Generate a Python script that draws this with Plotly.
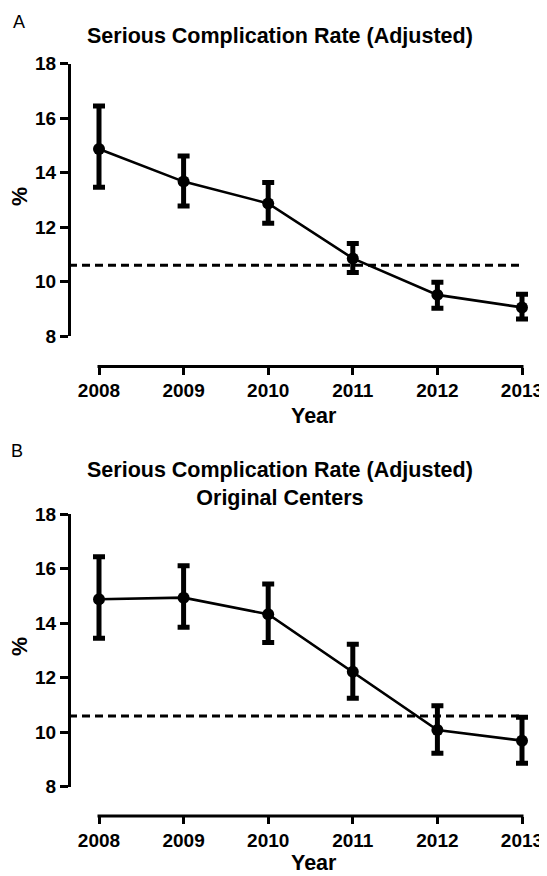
import plotly.graph_objects as go

# ---------------- data ----------------
years = [2008, 2009, 2010, 2011, 2012, 2013]
tick_labels = ["2008", "2009", "2010", "2011", "2012", "2013"]
y_ticks = [8, 10, 12, 14, 16, 18]

rate_a = [14.87, 13.67, 12.87, 10.85, 9.51, 9.05]
upper_a = [16.45, 14.61, 13.64, 11.40, 9.97, 9.53]
lower_a = [13.46, 12.77, 12.14, 10.33, 9.02, 8.62]

rate_b = [14.88, 14.94, 14.33, 12.22, 10.08, 9.69]
upper_b = [16.44, 16.11, 15.44, 13.23, 10.97, 10.55]
lower_b = [13.45, 13.85, 13.29, 11.25, 9.23, 8.86]

reference_rate = [10.6]

title_a = "Serious Complication Rate (Adjusted)"
title_b = ["Serious Complication Rate (Adjusted)", "Original Centers"]
panel_labels = ["A", "B"]
x_title = "Year"
y_title = "%"

# ---------------- layout helpers ----------------
# page body has an 8px margin -> figure is 8px smaller and offset by 8px
OFF = 8
W, H = 547 - OFF, 876 - OFF
FONT = "Liberation Sans, Arial, Helvetica, sans-serif"


def px_x(p):
    return (p - OFF) / W


def px_y(p):
    return 1 - (p - OFF) / H


fig = go.Figure()


def add_series(rate, upper, lower, xa, ya):
    fig.add_trace(go.Scatter(
        x=years, y=rate, xaxis=xa, yaxis=ya,
        mode="lines+markers",
        line=dict(color="black", width=2.6),
        marker=dict(color="black", size=12),
        error_y=dict(
            type="data", symmetric=False,
            array=[u - r for u, r in zip(upper, rate)],
            arrayminus=[r - l for r, l in zip(rate, lower)],
            color="black", thickness=5, width=6,
        ),
        cliponaxis=False,
        showlegend=False,
    ))


add_series(rate_a, upper_a, lower_a, "x", "y")
add_series(rate_b, upper_b, lower_b, "x2", "y2")

# pixel geometry
x_first_px, x_last_px = 99, 522          # pixel of first / last year
yaxis_x_px = 69
pad = 0.15                                # extra range so end error bars are not clipped
per_year_px = (x_last_px - x_first_px) / (years[-1] - years[0])
x_range = [years[0] - pad, years[-1] + pad]
x_dom = [px_x(x_first_px - pad * per_year_px), px_x(x_last_px + pad * per_year_px)]

tick_font = dict(family=FONT, size=19, color="black", weight="bold")
xaxis_common = dict(
    range=x_range, domain=x_dom,
    tickvals=years, ticktext=tick_labels,
    showline=False,
    ticks="outside", ticklen=7, tickwidth=3, tickcolor="black",
    showgrid=False, zeroline=False,
    tickfont=tick_font,
    anchor="free", automargin=False,
)
yaxis_common = dict(
    range=[8, 18],
    tickvals=y_ticks,
    showline=True, linecolor="black", linewidth=3,
    ticks="outside", ticklen=8, tickwidth=3, tickcolor="black",
    showgrid=False, zeroline=False,
    tickfont=tick_font,
    anchor="free", automargin=False,
)

xaxis_pos = {"x": px_y(366.5), "x2": px_y(816)}

fig.update_layout(
    width=W, height=H,
    margin=dict(l=0, r=0, t=0, b=0),
    paper_bgcolor="white", plot_bgcolor="white",
    font=dict(family=FONT, color="black"),
    xaxis=dict(xaxis_common, position=xaxis_pos["x"]),
    yaxis=dict(yaxis_common, domain=[px_y(336), px_y(63.7)],
               position=px_x(yaxis_x_px)),
    xaxis2=dict(xaxis_common, position=xaxis_pos["x2"]),
    yaxis2=dict(yaxis_common, domain=[px_y(786.7), px_y(514.3)],
                position=px_x(yaxis_x_px)),
)

# x-axis base lines spanning first to last year only (detached axis style)
for xr, pos in xaxis_pos.items():
    fig.add_shape(type="line", xref=xr, yref="paper",
                  x0=years[0] - 1.5 / per_year_px, x1=years[-1] + 1.5 / per_year_px,
                  y0=pos, y1=pos,
                  line=dict(color="black", width=3))

# reference (dashed) lines
for yref in ["y", "y2"]:
    fig.add_shape(type="line", xref="paper", yref=yref,
                  x0=px_x(yaxis_x_px), x1=px_x(x_last_px),
                  y0=reference_rate[0], y1=reference_rate[0],
                  line=dict(color="black", width=3, dash="8px,5px"))

bold = dict(family=FONT, size=21.5, color="black", weight="bold")


def ann(text, xp, yp, font, angle=0):
    fig.add_annotation(text=text, xref="paper", yref="paper",
                       x=px_x(xp), y=px_y(yp), xanchor="center",
                       yanchor="middle", showarrow=False, font=font,
                       textangle=angle)


# titles
ann(title_a, 280, 36.5, bold)
ann("<br>".join(title_b), 280, 483.5, bold)

# panel letters
letter_font = dict(family=FONT, size=18, color="black")
ann(panel_labels[0], 19, 21.7, letter_font)
ann(panel_labels[1], 17, 451, letter_font)

# axis titles
ann(x_title, 314, 415.5, bold)
ann(x_title, 314, 863, bold)
ann(y_title, 20, 197, bold, angle=-90)
ann(y_title, 20, 647, bold, angle=-90)

fig.write_html("out.html")
